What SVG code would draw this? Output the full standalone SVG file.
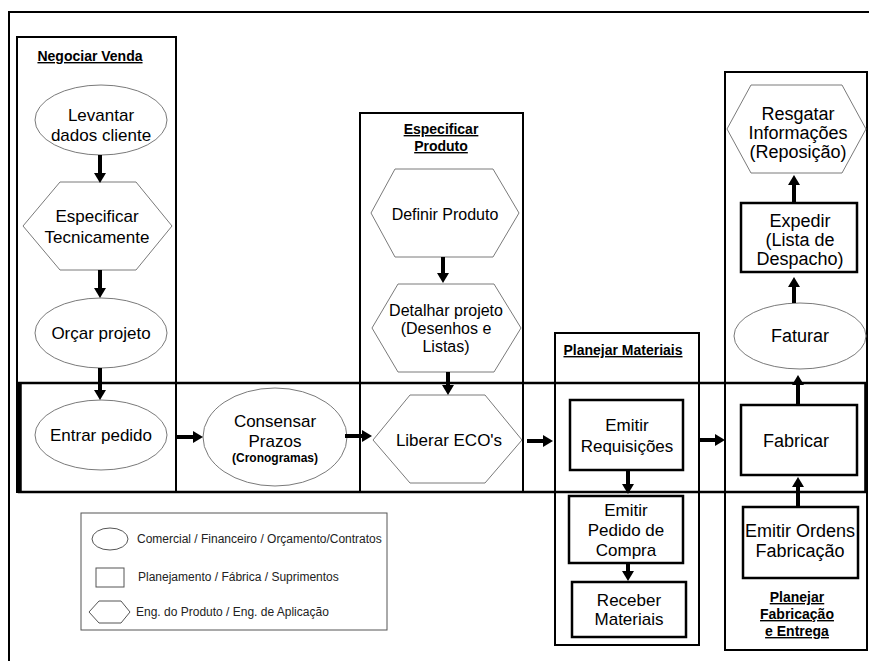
<svg xmlns="http://www.w3.org/2000/svg" width="869" height="661" viewBox="0 0 869 661">
<style>
text{font-family:"Liberation Sans",Arial,sans-serif;fill:#000;text-anchor:middle}
.t{font-size:17px}
.tr{font-size:18px}
.h{font-size:14px;font-weight:bold;text-decoration:underline}
.lg{font-size:12px;text-anchor:start;fill:#222}
.box{fill:none;stroke:#000;stroke-width:2}
.soft{fill:#fff;stroke:#7a7a7a;stroke-width:1}
.rct{fill:#fff;stroke:#000;stroke-width:2.5}
.lgs{fill:#fff;stroke:#555;stroke-width:1}
.ar{stroke:#000;stroke-width:4;fill:none;marker-end:url(#ah)}
</style>
<defs>
<marker id="ah" viewBox="0 0 10 12" markerWidth="10" markerHeight="12" markerUnits="userSpaceOnUse" refX="1" refY="6" orient="auto">
<path d="M0,0 L10,6 L0,12 z" fill="#000"/>
</marker>
</defs>
<rect width="869" height="661" fill="#fff"/>
<!-- outer frame -->
<rect x="9" y="12" width="880" height="680" class="box"/>
<!-- swimlane containers -->
<g id="lane-negociar">
<rect x="17" y="37" width="159" height="455" class="box"/>
<text x="90" y="61" class="h">Negociar Venda</text>
</g>
<g id="lane-especificar">
<rect x="360" y="113" width="163" height="379" class="box"/>
<text x="441" y="134" class="h">Especificar</text>
<text x="441" y="151" class="h">Produto</text>
</g>
<g id="lane-materiais">
<rect x="555" y="333" width="144" height="312" class="box"/>
<text x="623" y="355" class="h">Planejar Materiais</text>
</g>
<g id="lane-fabricacao">
<rect x="725" y="72" width="142" height="578" class="box"/>
<text x="797" y="602" class="h">Planejar</text>
<text x="797" y="619" class="h">Fabricação</text>
<text x="797" y="636" class="h">e Entrega</text>
</g>
<g id="band">
<rect x="19" y="383" width="847" height="109" fill="none" stroke="#000" stroke-width="2.5"/>
<line x1="20" y1="383" x2="20" y2="493" stroke="#000" stroke-width="3.5"/>
<line x1="866" y1="383" x2="866" y2="493" stroke="#000" stroke-width="3.5"/>
</g>
<!-- nodes -->
<g id="levantar">
<ellipse cx="101" cy="120" rx="66" ry="35" class="soft"/>
<text x="101" y="121" class="t">Levantar</text>
<text x="101" y="141" class="t">dados cliente</text>
</g>
<g id="especificar-tec">
<polygon points="23,226 60,182 136,182 172,226 136,270 60,270" class="soft"/>
<text x="97" y="222" class="t">Especificar</text>
<text x="97" y="243" class="t">Tecnicamente</text>
</g>
<g id="orcar">
<ellipse cx="101" cy="333" rx="66" ry="35" class="soft"/>
<text x="101" y="339" class="t">Orçar projeto</text>
</g>
<g id="entrar">
<ellipse cx="101" cy="435" rx="66" ry="35" class="soft"/>
<text x="101" y="441" class="t">Entrar pedido</text>
</g>
<g id="consensar">
<ellipse cx="275" cy="437" rx="72" ry="49" class="soft"/>
<text x="275" y="427" class="t">Consensar</text>
<text x="275" y="447" class="t">Prazos</text>
<text x="275" y="462" style="font-size:12px;font-weight:bold">(Cronogramas)</text>
</g>
<g id="definir">
<polygon points="371,213 395,169 493,169 519,213 493,257 395,257" class="soft"/>
<text x="445" y="220" style="font-size:16px">Definir Produto</text>
</g>
<g id="detalhar">
<polygon points="372,328 398,284 494,284 521,328 494,372 398,372" class="soft"/>
<text x="446" y="316" style="font-size:16px">Detalhar projeto</text>
<text x="446" y="334" style="font-size:16px">(Desenhos e</text>
<text x="446" y="352" style="font-size:16px">Listas)</text>
</g>
<g id="liberar">
<polygon points="373,440 410,395 485,395 522,440 485,483 410,483" class="soft"/>
<text x="449" y="446" class="t">Liberar ECO's</text>
</g>
<g id="requisicoes">
<rect x="570" y="400" width="113" height="70" class="rct"/>
<text x="627" y="431" class="t">Emitir</text>
<text x="627" y="452" class="t">Requisições</text>
</g>
<g id="pedido">
<rect x="569" y="496" width="114" height="67" class="rct"/>
<text x="626" y="516" class="t">Emitir</text>
<text x="626" y="536" class="t">Pedido de</text>
<text x="626" y="556" class="t">Compra</text>
</g>
<g id="receber">
<rect x="572" y="582" width="114" height="55" class="rct"/>
<text x="629" y="606" class="t">Receber</text>
<text x="629" y="625" class="t">Materiais</text>
</g>
<g id="resgatar">
<polygon points="727,129 751,85 842,85 866,129 842,173 751,173" class="soft"/>
<text x="798" y="120" class="tr">Resgatar</text>
<text x="798" y="139" class="tr">Informações</text>
<text x="798" y="158" class="tr">(Reposição)</text>
</g>
<g id="expedir">
<rect x="741" y="203" width="116" height="69" class="rct"/>
<text x="800" y="227" class="tr">Expedir</text>
<text x="800" y="246" class="tr">(Lista de</text>
<text x="800" y="265" class="tr">Despacho)</text>
</g>
<g id="faturar">
<ellipse cx="800" cy="336" rx="66" ry="33" class="soft"/>
<text x="800" y="342" class="tr">Faturar</text>
</g>
<g id="fabricar">
<rect x="741" y="405" width="116" height="70" class="rct"/>
<text x="796" y="447" class="tr">Fabricar</text>
</g>
<g id="ordens">
<rect x="743" y="507" width="115" height="71" class="rct"/>
<text x="800" y="537" class="tr">Emitir Ordens</text>
<text x="800" y="557" class="tr">Fabricação</text>
</g>
<!-- legend -->
<g id="legend">
<rect x="81" y="513" width="306" height="117" fill="#fff" stroke="#555" stroke-width="1"/>
<ellipse cx="110" cy="539" rx="18" ry="11" class="lgs"/>
<text x="137" y="543" class="lg">Comercial / Financeiro / Orçamento/Contratos</text>
<rect x="96" y="568" width="28" height="19" class="lgs"/>
<text x="138" y="581" class="lg">Planejamento / Fábrica / Suprimentos</text>
<polygon points="89,612 99,601 121,601 130,612 121,623 99,623" class="lgs"/>
<text x="136" y="616" class="lg">Eng. do Produto / Eng. de Aplicação</text>
</g>
<!-- connectors -->
<g id="connectors">
<line x1="100" y1="155" x2="100" y2="174" class="ar"/>
<line x1="100" y1="270" x2="100" y2="289" class="ar"/>
<line x1="100" y1="368" x2="100" y2="391" class="ar"/>
<line x1="176" y1="437" x2="194" y2="437" class="ar"/>
<line x1="345" y1="436" x2="363" y2="436" class="ar"/>
<line x1="443" y1="257" x2="443" y2="274" class="ar"/>
<line x1="448" y1="372" x2="448" y2="386" class="ar"/>
<line x1="527" y1="441" x2="544" y2="441" class="ar"/>
<line x1="628" y1="470" x2="628" y2="485" class="ar"/>
<line x1="628" y1="563" x2="628" y2="572" class="ar"/>
<line x1="700" y1="440" x2="716" y2="440" class="ar"/>
<line x1="798" y1="507" x2="798" y2="486" class="ar"/>
<line x1="798" y1="405" x2="798" y2="384" class="ar"/>
<line x1="794" y1="303" x2="794" y2="286" class="ar"/>
<line x1="794" y1="203" x2="794" y2="184" class="ar"/>
</g>
</svg>
